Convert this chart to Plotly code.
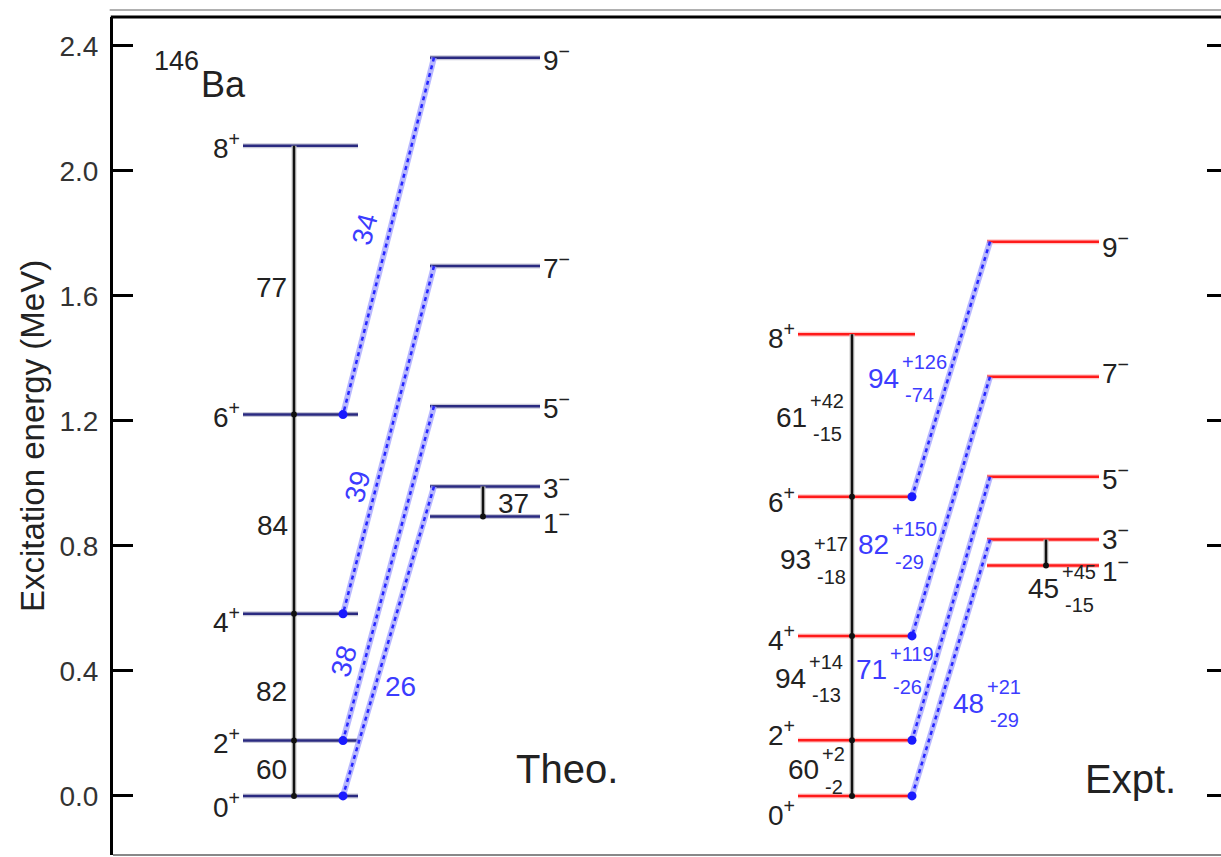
import plotly.graph_objects as go

# ---------------- data ----------------
pos_spins = ["0", "2", "4", "6", "8"]
neg_spins = ["1", "3", "5", "7", "9"]
theo_pos_E = [0.000, 0.177, 0.583, 1.220, 2.080]
theo_neg_E = [0.894, 0.990, 1.247, 1.695, 2.362]
expt_pos_E = [0.000, 0.178, 0.512, 0.957, 1.477]
expt_neg_E = [0.737, 0.820, 1.021, 1.341, 1.773]

# B(E2) in the positive band: 2+->0+, 4+->2+, 6+->4+, 8+->6+
theo_E2 = [60, 82, 84, 77]
expt_E2 = [60, 94, 93, 61]
expt_E2_up = [2, 14, 17, 42]
expt_E2_dn = [2, 13, 18, 15]
# B(E3): 3- ->0+, 5- ->2+, 7- ->4+, 9- ->6+
theo_E3 = [26, 38, 39, 34]
expt_E3 = [48, 71, 82, 94]
expt_E3_up = [21, 119, 150, 126]
expt_E3_dn = [29, 26, 29, 74]
# 3- -> 1-
theo_31 = 37
expt_31 = 45
expt_31_up = 45
expt_31_dn = 15

ytick_vals = [0.0, 0.4, 0.8, 1.2, 1.6, 2.0, 2.4]
ytick_text = ["0.0", "0.4", "0.8", "1.2", "1.6", "2.0", "2.4"]

# ---------------- layout constants (pixel-like x units) ----------------
FONT = "Liberation Sans, Arial, Helvetica, sans-serif"
BLUE_TXT = "#3c3cff"
TXT = "#222222"
panels = {
    "theo": dict(pos_x=(243, 358), vx=294, neg_x=(430, 540), e3_x0=434, e3_x1=343,
                 x31=483, color="#2a2a80", halo="#c8c8d8",
                 pos_lab_x=242, neg_lab_x=541,
                 pos_dy=[-9, 0, -6, 0, 0], neg_dy=[-5, 0, 0, 0, 0]),
    "expt": dict(pos_x=(798, 915), vx=852, neg_x=(987, 1099), e3_x0=990, e3_x1=912,
                 x31=1046, color="#ff1a1a", halo="#ffc8c8",
                 pos_lab_x=797, neg_lab_x=1100,
                 pos_dy=[-17, 7, -2, -3, -2], neg_dy=[-3, 3, 0, 6, -3]),
}

fig = go.Figure()
annotations = []
marker_traces = []


def add_line(xs, ys, color, width, dash=None, halo=None, halo_w=None):
    if halo:
        fig.add_trace(go.Scatter(x=xs, y=ys, mode="lines", hoverinfo="skip",
                                 line=dict(color=halo, width=halo_w)))
    fig.add_trace(go.Scatter(x=xs, y=ys, mode="lines", hoverinfo="skip",
                             line=dict(color=color, width=width, dash=dash)))


for name, pos_E, neg_E in [("theo", theo_pos_E, theo_neg_E), ("expt", expt_pos_E, expt_neg_E)]:
    p = panels[name]
    # levels
    xs, ys = [], []
    for e in pos_E:
        xs += [p["pos_x"][0], p["pos_x"][1], None]
        ys += [e, e, None]
    add_line(xs, ys, p["color"], 2.5, halo=p["halo"], halo_w=5)
    xs, ys = [], []
    for e in neg_E:
        xs += [p["neg_x"][0], p["neg_x"][1], None]
        ys += [e, e, None]
    add_line(xs, ys, p["color"], 2.5, halo=p["halo"], halo_w=5)
    # E3 transitions (blue dotted)
    for i in range(4):
        xs = [p["e3_x0"], p["e3_x1"]]
        ys = [neg_E[i + 1], pos_E[i]]
        add_line(xs, ys, "#2626ff", 2.5, dash="4px,4px", halo="rgba(160,160,255,0.75)", halo_w=6)
    marker_traces.append(go.Scatter(x=[p["e3_x1"]] * 4, y=pos_E[:4], mode="markers", hoverinfo="skip",
                                    marker=dict(color="#1a1aff", size=9, symbol="circle")))
    # E2 cascade (black vertical)
    add_line([p["vx"], p["vx"]], [pos_E[4], pos_E[0]], "#111111", 2.5, halo="#cccccc", halo_w=5)
    marker_traces.append(go.Scatter(x=[p["vx"]] * 4, y=pos_E[:4], mode="markers", hoverinfo="skip",
                                    marker=dict(color="#111111", size=6)))
    # 3- -> 1-
    add_line([p["x31"], p["x31"]], [neg_E[1], neg_E[0]], "#111111", 2.5, halo="#cccccc", halo_w=5)
    marker_traces.append(go.Scatter(x=[p["x31"]], y=[neg_E[0]], mode="markers", hoverinfo="skip",
                                    marker=dict(color="#111111", size=6)))
    # level labels
    for s, e, dy in zip(pos_spins, pos_E, p["pos_dy"]):
        annotations.append(dict(x=p["pos_lab_x"], y=e, text=f"{s}<sup>+</sup>", xanchor="right",
                                yanchor="middle", yshift=dy, showarrow=False,
                                font=dict(size=28, color=TXT, family=FONT)))
    for s, e, dy in zip(neg_spins, neg_E, p["neg_dy"]):
        annotations.append(dict(x=p["neg_lab_x"], y=e, text=f"{s}<sup>−</sup>", xanchor="left",
                                yanchor="middle", yshift=dy, showarrow=False,
                                font=dict(size=28, color=TXT, family=FONT)))

for t in marker_traces:
    fig.add_trace(t)

# ---- theoretical transition labels ----
theo_E2_lab = [(289, 0.083), (289, 0.333), (290, 0.864), (289, 1.628)]
for v, (x, y) in zip(theo_E2, theo_E2_lab):
    annotations.append(dict(x=x, y=y, text=str(v), xanchor="right", yanchor="middle", showarrow=False,
                            font=dict(size=28, color=TXT, family=FONT)))
theo_E3_lab = [(400, 0.349, 0), (344, 0.429, -74), (357, 0.988, -75), (365, 1.811, -75)]
for v, (x, y, a) in zip(theo_E3, theo_E3_lab):
    annotations.append(dict(x=x, y=y, text=str(v), xanchor="center", yanchor="middle", showarrow=False,
                            textangle=a, font=dict(size=28, color=BLUE_TXT, family=FONT)))
annotations.append(dict(x=496, y=0.937, text=str(theo_31), xanchor="left", yanchor="middle",
                        showarrow=False, font=dict(size=28, color=TXT, family=FONT)))


# ---- experimental labels with asymmetric errors ----
def err_label(x, y, v, up, dn, color):
    annotations.append(dict(x=x, y=y, text=str(v), xanchor="right", yanchor="middle", showarrow=False,
                            font=dict(size=28, color=color, family=FONT)))
    annotations.append(dict(x=x - 1, y=y, text=f"+{up}", xanchor="left", yanchor="middle", yshift=16,
                            showarrow=False, font=dict(size=20, color=color, family=FONT)))
    annotations.append(dict(x=x + 2, y=y, text=f"-{dn}", xanchor="left", yanchor="middle", yshift=-17,
                            showarrow=False, font=dict(size=20, color=color, family=FONT)))


expt_E2_lab = [(821, 0.083), (808, 0.377), (813, 0.755), (809, 1.212)]
for v, u, d, (x, y) in zip(expt_E2, expt_E2_up, expt_E2_dn, expt_E2_lab):
    err_label(x, y, v, u, d, TXT)
expt_E3_lab = [(986, 0.297), (889, 0.403), (891, 0.803), (901, 1.337)]
for v, u, d, (x, y) in zip(expt_E3, expt_E3_up, expt_E3_dn, expt_E3_lab):
    err_label(x, y, v, u, d, BLUE_TXT)
err_label(1061, 0.665, expt_31, expt_31_up, expt_31_dn, TXT)

# ---- panel titles / nucleus ----
annotations += [
    dict(x=567, y=0.085, text="Theo.", xanchor="center", yanchor="middle", showarrow=False,
         font=dict(size=40, color=TXT, family=FONT)),
    dict(x=1130, y=0.055, text="Expt.", xanchor="center", yanchor="middle", showarrow=False,
         font=dict(size=40, color=TXT, family=FONT)),
    dict(x=201, y=2.350, text="146", xanchor="right", yanchor="middle", showarrow=False,
         font=dict(size=27, color=TXT, family=FONT)),
    dict(x=199, y=2.275, text="Ba", xanchor="left", yanchor="middle", showarrow=False,
         font=dict(size=36, color=TXT, family=FONT)),
    dict(x=-0.0731, y=0.5, xref="paper", yref="paper", text="Excitation energy (MeV)",
         textangle=-90, xanchor="center", yanchor="middle", showarrow=False,
         font=dict(size=33, color=TXT, family=FONT)),
]

# dummy trace so the mirrored right axis is drawn
fig.add_trace(go.Scatter(x=[None], y=[None], yaxis="y2", showlegend=False, hoverinfo="skip"))

YR = [-0.189, 2.492]
fig.update_layout(
    width=1221, height=857,
    margin=dict(l=113, r=0, t=17, b=2),
    paper_bgcolor="white", plot_bgcolor="white",
    showlegend=False,
    xaxis=dict(range=[113, 1221], visible=False, fixedrange=True),
    yaxis=dict(range=YR, showgrid=False, zeroline=False, showline=True, linecolor="black",
               linewidth=3, ticks="inside", ticklen=20, tickwidth=3, tickcolor="black",
               tickvals=ytick_vals, ticktext=ytick_text, ticklabelstandoff=6,
               tickfont=dict(size=28, color="#333333", family=FONT)),
    yaxis2=dict(range=YR, overlaying="y", side="right", showgrid=False, zeroline=False,
                showline=False, ticks="inside", ticklen=14, tickwidth=3, tickcolor="black",
                tickvals=ytick_vals, showticklabels=False),
    annotations=annotations,
    shapes=[
        dict(type="line", xref="paper", yref="paper", x0=-0.002, x1=1, y0=1, y1=1,
             line=dict(color="black", width=3)),
        dict(type="line", xref="paper", yref="paper", x0=-0.003, x1=1, y0=1.0084, y1=1.0084,
             line=dict(color="#b0b0b0", width=2)),
        dict(type="line", xref="paper", yref="paper", x0=0, x1=1, y0=0, y1=0,
             line=dict(color="#888888", width=2)),
    ],
)

fig.write_html("out.html")
